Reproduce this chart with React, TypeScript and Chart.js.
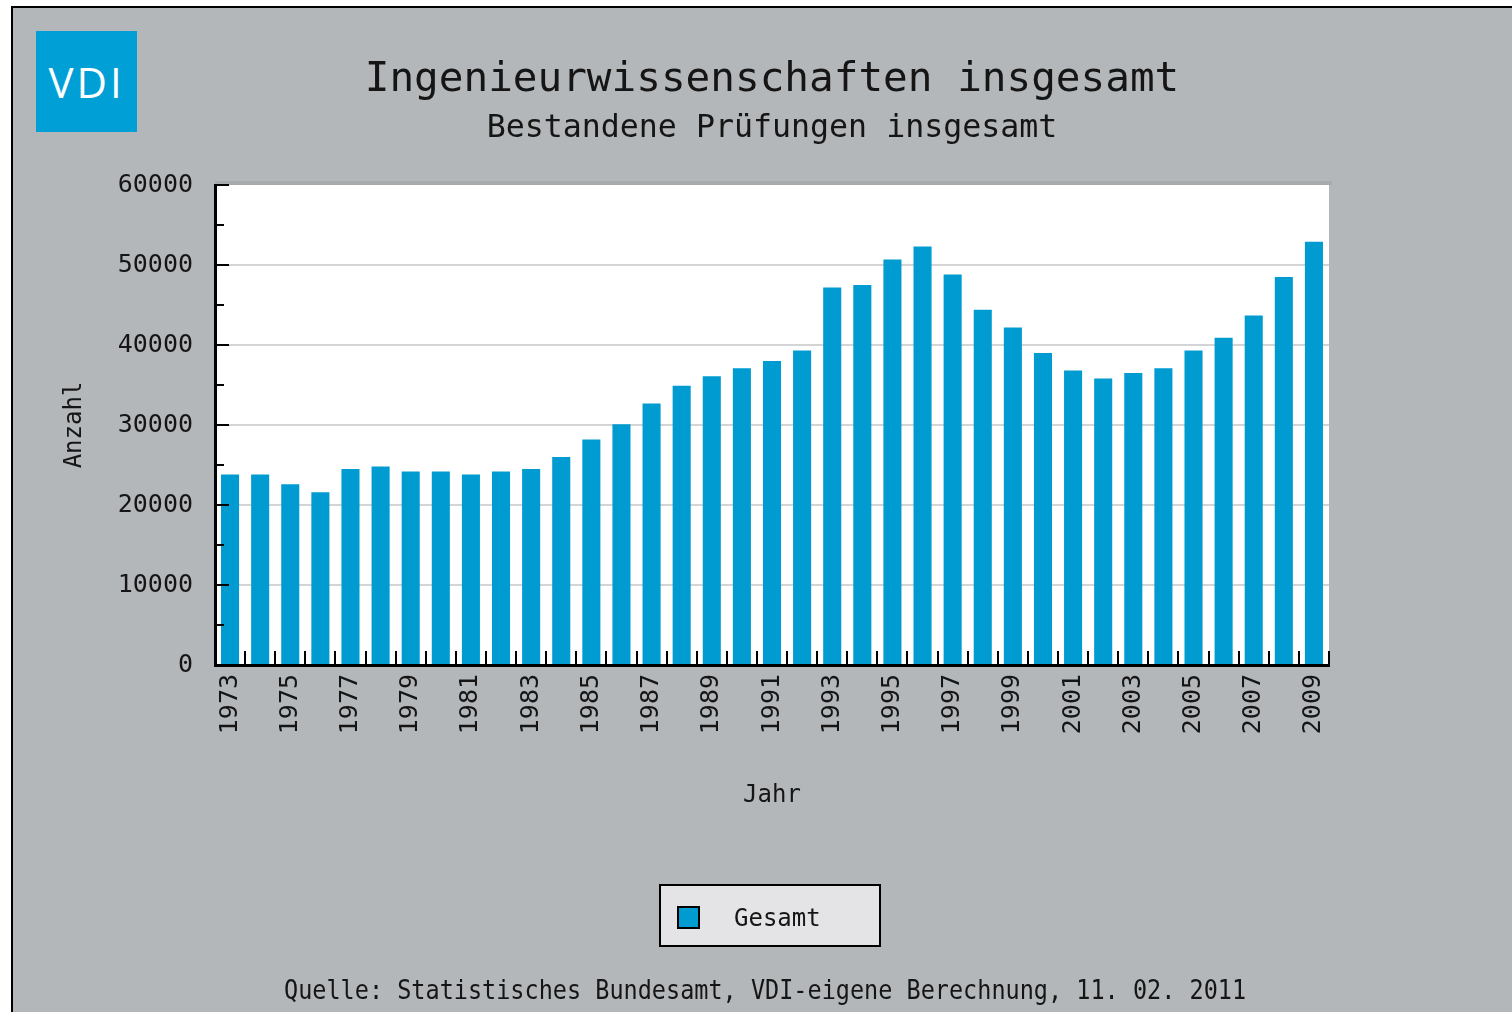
import React, { useEffect, useRef } from 'react';
import { Chart, registerables } from 'chart.js';

Chart.register(...registerables);

const years = [
  '1973', '1974', '1975', '1976', '1977', '1978', '1979', '1980', '1981', '1982',
  '1983', '1984', '1985', '1986', '1987', '1988', '1989', '1990', '1991', '1992',
  '1993', '1994', '1995', '1996', '1997', '1998', '1999', '2000', '2001', '2002',
  '2003', '2004', '2005', '2006', '2007', '2008', '2009',
];

const gesamt = [
  23800, 23800, 22600, 21600, 24500, 24800, 24200, 24200, 23800, 24200,
  24500, 26000, 28200, 30100, 32700, 34900, 36100, 37100, 38000, 39300,
  47200, 47500, 50700, 52300, 48800, 44400, 42200, 39000, 36800, 35800,
  36500, 37100, 39300, 40900, 43700, 48500, 52900,
];

const TITLE = 'Ingenieurwissenschaften insgesamt';
const SUBTITLE = 'Bestandene Prüfungen insgesamt';
const SERIES_LABEL = 'Gesamt';
const X_TITLE = 'Jahr';
const Y_TITLE = 'Anzahl';
const SOURCE = 'Quelle: Statistisches Bundesamt, VDI-eigene Berechnung, 11. 02. 2011';
const LOGO = 'VDI';

const MONO = '"DejaVu Sans Mono", "Liberation Mono", monospace';
const BAR = '#009bd0';
const TEXT = '#151515';

const plotBg = {
  id: 'plotBg',
  beforeDraw(chart: any) {
    const { ctx, chartArea: a } = chart;
    ctx.save();
    ctx.fillStyle = '#a8abae';
    ctx.fillRect(a.left, a.top - 4, a.right - a.left + 3, 4);
    ctx.fillStyle = '#ffffff';
    ctx.fillRect(a.left, a.top, a.right - a.left, a.bottom - a.top);
    ctx.restore();
  },
};

const innerTicks = {
  id: 'innerTicks',
  afterDraw(chart: any, _args: any, o: any) {
    const { ctx, chartArea: a } = chart;
    const xs = chart.scales.x;
    const ys = chart.scales.y;
    ctx.save();
    ctx.strokeStyle = '#000';
    ctx.lineWidth = 2;
    ctx.beginPath();
    const n = chart.data.labels.length;
    for (let i = 0; i <= n; i++) {
      const x = Math.round(xs.getPixelForValue(i - 0.5));
      ctx.moveTo(x, a.bottom);
      ctx.lineTo(x, a.bottom - o.xLen);
    }
    for (let v = ys.min; v <= ys.max; v += o.yMinorStep) {
      const y = Math.round(ys.getPixelForValue(v));
      const len = v % o.yMajorStep === 0 ? o.yMajorLen : o.yMinorLen;
      ctx.moveTo(a.left, y);
      ctx.lineTo(a.left + len, y);
    }
    ctx.stroke();
    ctx.restore();
  },
};

const boxLegend = {
  id: 'boxLegend',
  afterDraw(chart: any, _args: any, o: any) {
    const ds = chart.data.datasets[0];
    const { ctx } = chart;
    ctx.save();
    ctx.fillStyle = o.fill;
    ctx.fillRect(o.x, o.y, o.w, o.h);
    ctx.strokeStyle = '#000';
    ctx.lineWidth = 2;
    ctx.strokeRect(o.x, o.y, o.w, o.h);
    ctx.fillStyle = ds.backgroundColor;
    ctx.fillRect(o.x + 18, o.cy - 11, 21, 21);
    ctx.strokeRect(o.x + 18, o.cy - 11, 21, 21);
    ctx.font = `24px ${MONO}`;
    ctx.fillStyle = TEXT;
    ctx.textBaseline = 'middle';
    ctx.textAlign = 'left';
    ctx.fillText(ds.label, o.x + 74, o.cy + 2);
    ctx.restore();
  },
};

export default function App() {
  const ref = useRef<HTMLCanvasElement | null>(null);

  useEffect(() => {
    if (!ref.current) return;
    const chart = new Chart(ref.current, {
      type: 'bar',
      data: {
        labels: years,
        datasets: [
          {
            label: SERIES_LABEL,
            data: gesamt,
            backgroundColor: BAR,
            borderWidth: 0,
            barPercentage: 0.6,
            categoryPercentage: 1,
          },
        ],
      },
      options: {
        responsive: false,
        animation: false,
        layout: { padding: { top: 0, left: 60, right: 183, bottom: 202 } },
        plugins: {
          legend: { display: false },
          tooltip: { enabled: false },
          title: {
            display: true,
            fullSize: false,
            text: TITLE,
            color: TEXT,
            font: { family: MONO, size: 41, weight: 'normal', lineHeight: 1 },
            padding: { top: 60, bottom: 0 },
          },
          subtitle: {
            display: true,
            fullSize: false,
            text: SUBTITLE,
            color: TEXT,
            font: { family: MONO, size: 31.6, weight: 'normal', lineHeight: 1 },
            padding: { top: 12.2, bottom: 40.2 },
          },
          innerTicks: { xLen: 14, yMinorStep: 5000, yMajorStep: 10000, yMajorLen: 14, yMinorLen: 9 },
          boxLegend: { x: 660, y: 885, w: 220, h: 61, cy: 918, fill: '#e4e4e6' },
        } as any,
        scales: {
          x: {
            grid: { display: false, drawTicks: false },
            border: { display: true, color: '#000', width: 3, z: 1 },
            ticks: {
              autoSkip: false,
              minRotation: 90,
              maxRotation: 90,
              padding: 9,
              color: TEXT,
              font: { family: MONO, size: 25 },
              callback: (_v: any, i: number) => (i % 2 === 0 ? years[i] : ''),
            },
            title: {
              display: true,
              text: X_TITLE,
              color: TEXT,
              font: { family: MONO, size: 24, lineHeight: 1.2 },
              padding: { top: 0, bottom: 0 },
            },
            afterFit: (s: any) => {
              s.height = 145;
            },
          },
          y: {
            min: 0,
            max: 60000,
            grid: {
              drawTicks: false,
              lineWidth: 2,
              color: (c: any) =>
                c.tick && (c.tick.value === 0 || c.tick.value === 60000) ? 'rgba(0,0,0,0)' : '#d3d4d6',
            },
            border: { display: true, color: '#000', width: 3, z: 1 },
            ticks: {
              stepSize: 10000,
              padding: 22,
              color: TEXT,
              font: { family: MONO, size: 25 },
              callback: (v: any) => String(v),
            },
            title: {
              display: true,
              text: Y_TITLE,
              color: TEXT,
              font: { family: MONO, size: 24, lineHeight: 1.2 },
              padding: { top: 0, bottom: 0 },
            },
            afterFit: (s: any) => {
              s.width = 155;
            },
          },
        },
      } as any,
      plugins: [plotBg, innerTicks, boxLegend],
    });
    return () => chart.destroy();
  }, []);

  return (
    <div
      style={{
        position: 'fixed',
        left: 0,
        top: 0,
        width: 1512,
        height: 1012,
        overflow: 'hidden',
        background: '#ffffff',
      }}
    >
      <div
        style={{
          position: 'absolute',
          left: 11,
          top: 6,
          width: 1540,
          height: 1040,
          borderTop: '2px solid #000',
          borderLeft: '2px solid #000',
          background: '#b4b7ba',
        }}
      />
      <div
        style={{
          position: 'absolute',
          left: 36,
          top: 31,
          width: 101,
          height: 101,
          background: '#00a0d6',
          color: '#fff',
          fontFamily: '"Open Sans", sans-serif',
          fontWeight: 400,
          fontSize: 42,
          lineHeight: '101px',
          textAlign: 'center',
          letterSpacing: 3,
        }}
      >
        {LOGO}
      </div>
      <canvas
        ref={ref}
        width={1512}
        height={1012}
        style={{ position: 'absolute', left: 0, top: 0, width: 1512, height: 1012 }}
      />
      <div
        style={{
          position: 'absolute',
          left: 284,
          top: 980,
          fontFamily: MONO,
          fontSize: 23.5,
          lineHeight: '23px',
          color: TEXT,
          whiteSpace: 'nowrap',
          transform: 'scaleY(1.13)',
          transformOrigin: 'left 19px',
        }}
      >
        {SOURCE}
      </div>
    </div>
  );
}
